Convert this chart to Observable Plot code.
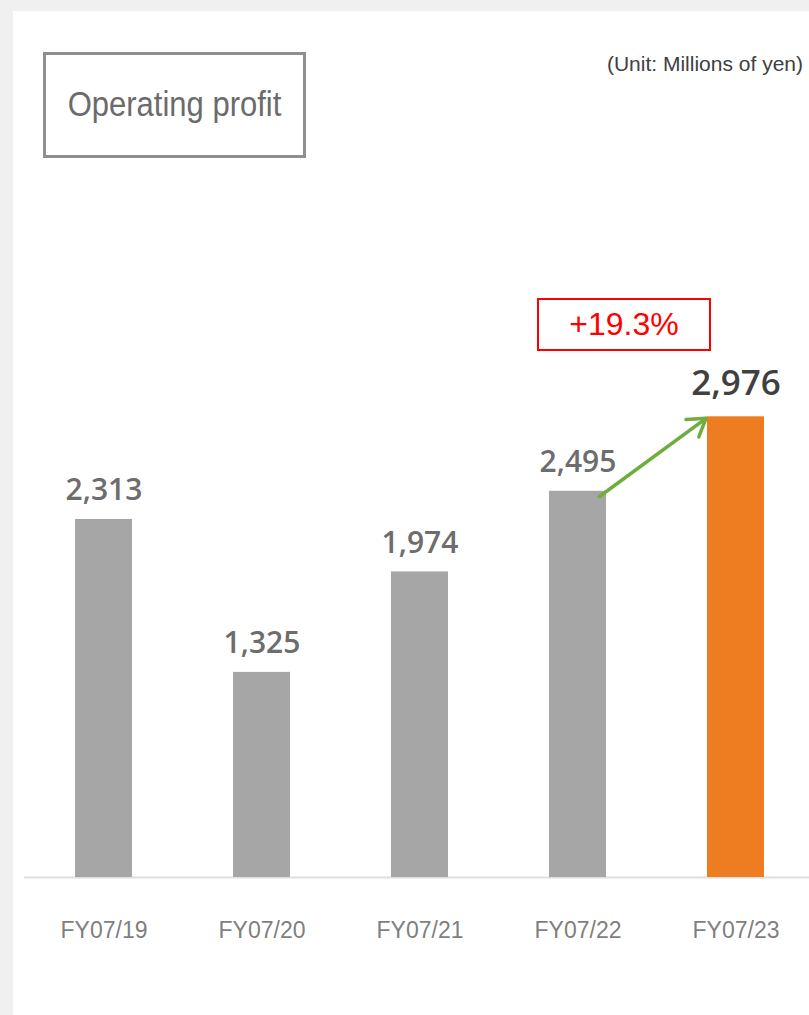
<!DOCTYPE html>
<html>
<head>
<meta charset="utf-8">
<script src="https://cdn.jsdelivr.net/npm/d3@7"></script>
<script src="https://cdn.jsdelivr.net/npm/@observablehq/plot@0.6"></script>
<style>
  html, body { margin: 0; padding: 0; background: #f0f0f0; overflow: hidden; }
  #page { position: relative; width: 809px; height: 1015px; }
  #panel { position: absolute; left: 13px; top: 11px; right: 0; bottom: 0; background: #ffffff; }
  #title {
    position: absolute; left: 43px; top: 52px; width: 257px; height: 100px;
    border: 3px solid #8f8f8f; display: flex; align-items: center; justify-content: center;
    font: 31px "Liberation Sans", Arial, sans-serif; color: #6b6b6b; white-space: nowrap;
  }
  #title span { display: inline-block; transform: scaleY(1.12); }
  #unit {
    position: absolute; right: 6px; top: 52px; line-height: 1;
    font: 21px "Liberation Sans", Arial, sans-serif; color: #404040; white-space: nowrap;
  }
  #growth {
    position: absolute; left: 537px; top: 298px; width: 170px; height: 49px;
    border: 2px solid #ff0000; display: flex; align-items: center; justify-content: center;
    font: 32px "Liberation Sans", Arial, sans-serif; color: #ff0000; white-space: nowrap;
  }
  #chart { position: absolute; left: 0; top: 0; }
</style>
</head>
<body>
<div id="page">
  <div id="panel"></div>
  <div id="title"><span></span></div>
  <div id="unit"></div>
  <div id="growth"></div>
  <div id="chart"></div>
</div>
<script>
// ---- data ----
const categories = ["FY07/19", "FY07/20", "FY07/21", "FY07/22", "FY07/23"];
const profit = [2313, 1325, 1974, 2495, 2976];
const titleText = "Operating profit";
const unitText = "(Unit: Millions of yen)";
const growthText = "+19.3%";
const currentYear = "FY07/23";
const previousYear = "FY07/22";

document.querySelector("#title span").textContent = titleText;
document.getElementById("unit").textContent = unitText;
document.getElementById("growth").textContent = growthText;

const rows = categories.map((c, i) => ({cat: c, value: profit[i]}));
const fmt = d3.format(",");

// growth arrow drawn from the library's scales
function growthArrow(index, scales) {
  const x = scales.x, y = scales.y;
  const bw = typeof x.bandwidth === "function" ? x.bandwidth() : 0;
  const iPrev = categories.indexOf(previousYear), iCur = categories.indexOf(currentYear);
  const x1 = x(previousYear) + bw * 0.88, y1 = y(profit[iPrev]) + 6;
  const x2 = x(currentYear) - 1, y2 = y(profit[iCur]) + 2;
  const a = Math.atan2(y2 - y1, x2 - x1);
  const L = 20, spread = Math.PI / 5.5;
  const g = d3.create("svg:g")
    .attr("fill", "none").attr("stroke", "#6fae3c").attr("stroke-width", 3.5)
    .attr("stroke-linecap", "round").attr("stroke-linejoin", "round");
  g.append("line").attr("x1", x1).attr("y1", y1).attr("x2", x2).attr("y2", y2);
  g.append("polyline").attr("points", [
    [x2 - L * Math.cos(a - spread), y2 - L * Math.sin(a - spread)],
    [x2, y2],
    [x2 - L * Math.cos(a + spread), y2 - L * Math.sin(a + spread)]
  ].map(p => p.join(",")).join(" "));
  return g.node();
}

const plot = Plot.plot({
  width: 809,
  height: 1015,
  marginLeft: 24,
  marginRight: 0,
  marginTop: 103,
  marginBottom: 138,
  style: {background: "transparent", fontFamily: "'Liberation Sans', Arial, sans-serif", color: "#7f7f7f"},
  x: {domain: categories, paddingInner: 0.64, paddingOuter: 0.3, align: 0.53, label: null, axis: null},
  y: {domain: [0, 5000], axis: null},
  marks: [
    Plot.ruleY([0], {stroke: "#dedede", strokeWidth: 2}),
    Plot.barY(rows, {filter: d => d.cat !== currentYear, x: "cat", y: "value", fill: "#a6a6a6"}),
    Plot.barY(rows, {filter: d => d.cat === currentYear, x: "cat", y: "value", fill: "#ee7d21"}),
    Plot.text(rows, {
      filter: d => d.cat !== currentYear, x: "cat", y: "value", text: d => fmt(d.value),
      lineAnchor: "bottom", dy: -19, fontSize: 30, fontWeight: 600,
      fontFamily: "'Open Sans', 'Noto Sans', sans-serif", fill: "#6d6d6d"
    }),
    Plot.text(rows, {
      filter: d => d.cat === currentYear, x: "cat", y: "value", text: d => fmt(d.value),
      lineAnchor: "bottom", dy: -22, fontSize: 35, fontWeight: 600,
      fontFamily: "'Open Sans', 'Noto Sans', sans-serif", fill: "#404040"
    }),
    growthArrow,
    Plot.axisX({tickSize: 0, tickPadding: 44, fontSize: 23, fill: "#7f7f7f", label: null})
  ]
});
document.getElementById("chart").appendChild(plot);
</script>
</body>
</html>
